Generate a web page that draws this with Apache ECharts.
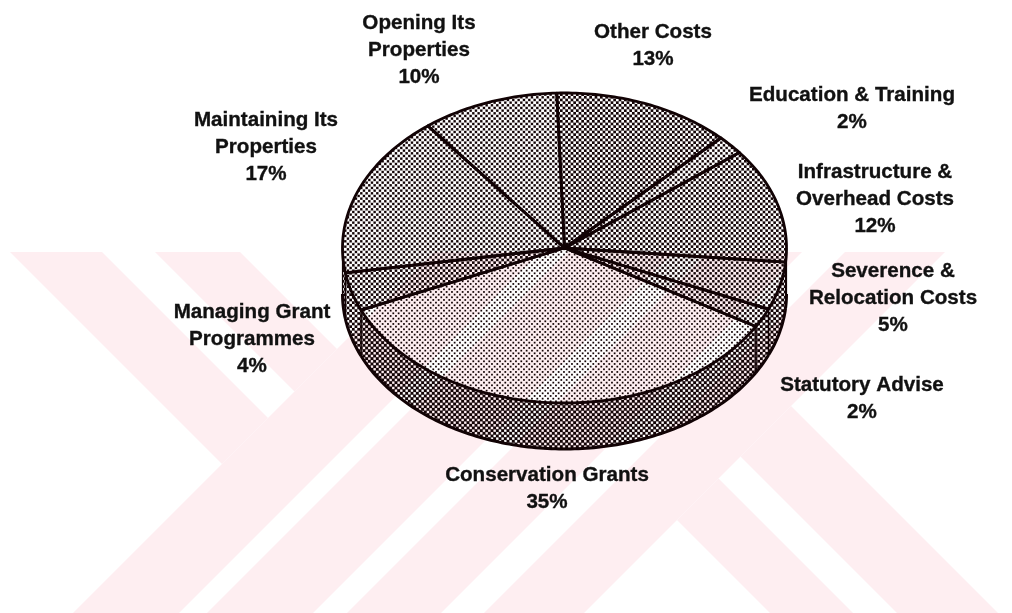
<!DOCTYPE html>
<html>
<head>
<meta charset="utf-8">
<style>html,body{margin:0;padding:0;background:#fff}#chart{width:1012px;height:613px}</style>
<script src="https://cdn.jsdelivr.net/npm/echarts@6/dist/echarts.min.js"></script>
</head>
<body>
<div id="chart"></div>
<script>
// Slices run clockwise from just left of twelve o'clock.
const categories = ['Other Costs', 'Education & Training', 'Infrastructure &\nOverhead Costs',
  'Severence &\nRelocation Costs', 'Statutory Advise', 'Conservation Grants',
  'Managing Grant\nProgrammes', 'Maintaining Its\nProperties', 'Opening Its\nProperties'];
const shares = [13, 2, 12, 5, 2, 35, 4, 17, 10];

// Label anchors: centre x and centre y of the first line.
const labelAnchors = [[653, 32], [852, 95], [875, 172], [893, 271], [862, 385],
  [547, 475], [252, 312], [266, 120], [419, 23]];

// Halftone screens per slice: [dot side in px, dots are holes in black?]
const topScreens = [[2.65, true], [2.95, true], [2.75, true], [2.4, false], [2.5, false],
  [1.75, false], [2.75, true], [2.95, true], [2.95, true]];
const wallScreens = [[2.4, true], [2.4, true], [2.4, true], [2.5, true], [2.5, true],
  [2.4, true], [2.6, true], [2.6, true], [2.6, true]];

// Tilted disc geometry.
const PIE = { cx: 564.5, cy: 248, rx: 222, ry: 155, depth: 46, start: -2 };
const INK = '#120305';

// Background emblem stripes, given as ranges of x+y and x-y.
const riseStripes = [[686, 792], [820, 926], [960, 1054], [1097, 1197]];
const fallStripesLeft = [[-242, -150], [-97, -12]];
const fallStripesRight = [[157, 240], [284, 385]];
const EMBLEM = { top: 252, bottom: 613, innerSum: 686, outerSum: 1197, fill: '#feeef1' };

function stripeGraphics() {
  const { top, bottom, innerSum, outerSum, fill } = EMBLEM;
  const shapes = [];
  riseStripes.forEach(([a, b]) => shapes.push([[a - top, top], [b - top, top], [b - bottom, bottom], [a - bottom, bottom]]));
  fallStripesLeft.forEach(([a, b]) => shapes.push([[a + top, top], [b + top, top],
    [(innerSum + b) / 2, (innerSum - b) / 2], [(innerSum + a) / 2, (innerSum - a) / 2]]));
  fallStripesRight.forEach(([a, b]) => shapes.push([[(outerSum + a) / 2, (outerSum - a) / 2],
    [(outerSum + b) / 2, (outerSum - b) / 2], [b + bottom, bottom], [a + bottom, bottom]]));
  return shapes.map(points => ({ type: 'polygon', silent: true, z: -10, shape: { points }, style: { fill } }));
}

// Builds a repeating 45-degree dot screen; paper stays transparent so the emblem shows through.
const screenCache = {};
function screen(side, holes) {
  const key = side + '/' + holes;
  if (screenCache[key]) return screenCache[key];
  const size = 16, c = document.createElement('canvas');
  c.width = c.height = size;
  const g = c.getContext('2d');
  if (holes) { g.fillStyle = INK; g.fillRect(0, 0, size, size); g.globalCompositeOperation = 'destination-out'; }
  g.fillStyle = holes ? '#000' : INK;
  const px = size / 3, py = size / 6;
  for (let j = -1; j <= 6; j++) {
    for (let i = -1; i <= 3; i++) {
      const x = (i + (((j % 2) + 2) % 2) / 2) * px + 1.3, y = j * py + 1.3;
      g.fillRect(x - side / 2, y - side / 2, side, side);
    }
  }
  return screenCache[key] = { image: c, repeat: 'repeat' };
}

function sliceSpan(index) {
  let before = 0;
  for (let i = 0; i < index; i++) before += shares[i];
  const total = shares.reduce((s, v) => s + v, 0);
  return [PIE.start + before / total * 360, PIE.start + (before + shares[index]) / total * 360];
}
function rimPoint(deg, drop) {
  const t = deg * Math.PI / 180;
  return [PIE.cx + PIE.rx * Math.sin(t), PIE.cy - PIE.ry * Math.cos(t) + (drop || 0)];
}
function arc(from, to, drop) {
  const pts = [], steps = Math.max(2, Math.ceil(Math.abs(to - from)));
  for (let k = 0; k <= steps; k++) pts.push(rimPoint(from + (to - from) * k / steps, drop));
  return pts;
}

function renderTop(params, api) {
  const i = params.dataIndex, v = api.value(0);
  const [a0] = sliceSpan(i), a1 = a0 + v / shares.reduce((s, x) => s + x, 0) * 360;
  const s = topScreens[i];
  return {
    type: 'polygon',
    shape: { points: [[PIE.cx, PIE.cy]].concat(arc(a0, a1)) },
    style: { fill: screen(s[0], s[1]), stroke: INK, lineWidth: 2.8, lineJoin: 'round' }
  };
}

function renderWall(params, api) {
  const i = params.dataIndex, [a0, a1] = sliceSpan(i);
  const from = Math.max(a0, 90), to = Math.min(a1, 270);
  if (to <= from || !(api.value(0) > 0)) return { type: 'group', children: [] };
  const s = wallScreens[i];
  return {
    type: 'group',
    children: [
      { type: 'polygon',
        shape: { points: arc(from, to, 0).concat(arc(to, from, PIE.depth)) },
        style: { fill: screen(s[0], s[1]), stroke: INK, lineWidth: 1.2, lineJoin: 'round' } },
      { type: 'polyline',
        shape: { points: arc(from, to, PIE.depth) },
        style: { fill: 'none', stroke: INK, lineWidth: 3 } }
    ]
  };
}

function renderLabel(params, api) {
  const i = params.dataIndex, [x, y] = labelAnchors[i];
  const lines = categories[i].split('\n').concat(api.value(0) + '%');
  return {
    type: 'group',
    children: lines.map((text, k) => ({
      type: 'text',
      style: { text, x, y: y + k * 27, align: 'center', verticalAlign: 'middle',
        font: 'bold 20.6px "Liberation Sans", Arial, sans-serif', fill: '#111', stroke: '#111', lineWidth: 0.35 }
    }))
  };
}

const chart = echarts.init(document.getElementById('chart'), null, { renderer: 'canvas' });
const common = { type: 'custom', coordinateSystem: 'none', silent: true, animation: false, data: shares };
chart.setOption({
  animation: false,
  backgroundColor: '#fff',
  graphic: stripeGraphics(),
  series: [
    Object.assign({ name: 'wall', renderItem: renderWall, z: 2 }, common),
    Object.assign({ name: 'top', renderItem: renderTop, z: 3 }, common),
    Object.assign({ name: 'labels', renderItem: renderLabel, z: 4 }, common)
  ]
});
</script>
</body>
</html>
